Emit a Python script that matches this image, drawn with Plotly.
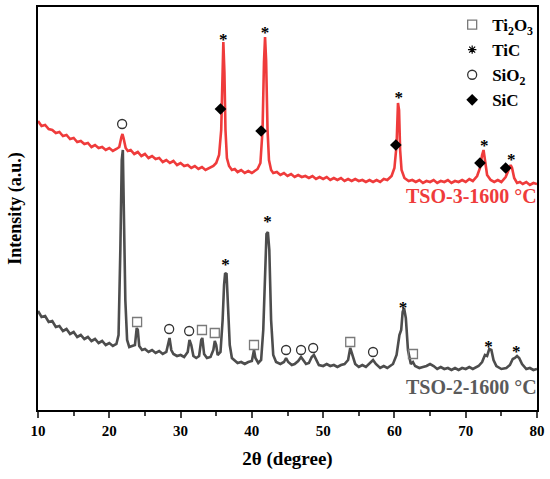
import plotly.graph_objects as go

# ---- red pattern: TSO-3-1600 °C (values read as pixel rows, converted below)
red_x = [10.0, 10.5, 11.0, 11.5, 12.0, 12.5, 13.0, 13.5, 14.0, 14.5, 15.0, 15.5, 16.0, 16.5,
         17.0, 17.5, 18.0, 18.5, 19.0, 19.5, 20.0, 20.5, 21.0, 21.4, 21.7, 21.85, 22.0, 22.3,
         22.6, 23.0, 23.5, 24.0, 24.5, 25.0, 25.5, 26.0, 26.5, 27.0, 27.5, 28.0, 28.5, 29.0,
         29.5, 30.0, 30.5, 31.0, 31.5, 32.0, 32.5, 33.0, 33.5, 34.0, 34.6, 35.0, 35.4, 35.7,
         35.85, 36.0, 36.15, 36.3, 36.5, 36.8, 37.2, 37.6, 38.0, 38.5, 39.0, 39.5, 40.0, 40.4,
         40.8, 41.2, 41.5, 41.7, 41.85, 42.0, 42.2, 42.4, 42.7, 43.0, 43.5, 44.0, 44.5, 45.0,
         45.5, 46.0, 46.5, 47.0, 47.5, 48.0, 48.5, 49.0, 49.5, 50.0, 50.5, 51.0, 51.5, 52.0,
         52.5, 53.0, 53.5, 54.0, 54.5, 55.0, 55.5, 56.0, 56.5, 57.0, 57.5, 58.0, 58.5, 59.0,
         59.6, 60.0, 60.3, 60.5, 60.65, 60.8, 61.0, 61.4, 62.0, 62.5, 63.0, 63.5, 64.0, 64.5,
         65.0, 65.5, 66.0, 66.5, 67.0, 67.5, 68.0, 68.5, 69.0, 69.5, 70.0, 70.5, 71.0, 71.6,
         72.0, 72.3, 72.5, 72.7, 73.0, 73.5, 74.0, 74.5, 75.0, 75.6, 76.0, 76.3, 76.5, 76.8,
         77.2, 77.6, 78.0, 78.5, 79.0, 79.5, 80.0]
red_row = [121, 126, 125, 129, 130, 133, 132, 136, 135, 139, 138, 142, 141, 144,
           143, 147, 145, 148, 147, 150, 148, 151, 149, 147, 137, 134, 138, 148,
           151, 150, 154, 152, 156, 154, 158, 156, 159, 158, 162, 160, 163, 161,
           165, 163, 166, 165, 168, 166, 169, 167, 170, 168, 166, 163, 155, 130,
           80, 42, 72, 130, 158, 166, 170, 169, 172, 170, 173, 171, 173, 171,
           169, 163, 130, 62, 37, 60, 130, 160, 170, 173, 172, 175, 173, 176,
           174, 177, 175, 177, 176, 178, 176, 179, 177, 179, 177, 180, 178, 180,
           178, 181, 179, 181, 179, 181, 180, 182, 180, 182, 180, 182, 179, 180,
           176, 168, 145, 103, 110, 150, 170, 178, 181, 180, 182, 180, 183, 181,
           182, 180, 183, 181, 182, 180, 183, 181, 182, 180, 182, 179, 181, 176,
           168, 155, 150, 160, 175, 180, 182, 180, 182, 177, 171, 165, 168, 178,
           183, 182, 184, 182, 185, 183, 184]

# ---- grey pattern: TSO-2-1600 °C
grey_x = [10.0, 10.5, 11.0, 11.5, 12.0, 12.5, 13.0, 13.5, 14.0, 14.5, 15.0, 15.5, 16.0, 16.5,
          17.0, 17.5, 18.0, 18.5, 19.0, 19.5, 20.0, 20.5, 21.0, 21.3, 21.55, 21.75, 21.9, 22.05,
          22.25, 22.5, 22.8, 23.2, 23.6, 23.85, 24.0, 24.2, 24.6, 25.0, 25.5, 26.0, 26.5, 27.0,
          27.5, 28.0, 28.3, 28.45, 28.7, 29.0, 29.5, 30.0, 30.5, 31.0, 31.25, 31.5, 31.8, 32.2,
          32.6, 32.9, 33.05, 33.3, 33.7, 34.2, 34.6, 34.8, 35.0, 35.2, 35.6, 35.9, 36.1, 36.25,
          36.45, 36.65, 36.9, 37.2, 37.6, 38.0, 38.5, 39.0, 39.5, 40.0, 40.3, 40.5, 40.9, 41.3,
          41.6, 41.85, 42.05, 42.25, 42.45, 42.7, 43.0, 43.4, 44.0, 44.5, 44.8, 45.1, 45.6, 46.0,
          46.5, 46.9, 47.2, 47.6, 48.0, 48.4, 48.7, 49.0, 49.4, 50.0, 50.5, 51.0, 51.5, 52.0,
          52.5, 53.0, 53.5, 53.8, 54.1, 54.5, 55.0, 55.5, 56.0, 56.6, 57.0, 57.4, 58.0, 58.5,
          59.0, 59.8, 60.3, 60.7, 60.95, 61.15, 61.35, 61.6, 61.9, 62.3, 62.6, 62.9, 63.5, 64.0,
          64.5, 65.0, 65.5, 66.0, 66.5, 67.0, 67.5, 68.0, 68.5, 69.0, 69.5, 70.0, 70.5, 71.0,
          71.8, 72.3, 72.7, 73.0, 73.3, 73.6, 73.9, 74.3, 75.0, 75.7, 76.2, 76.6, 76.9, 77.2,
          77.5, 77.9, 78.5, 79.0, 79.5, 80.0]
grey_row = [311, 317, 316, 322, 321, 327, 326, 331, 329, 334, 332, 337, 335, 339,
            337, 341, 339, 343, 341, 345, 343, 346, 344, 335, 250, 160, 150, 200,
            300, 340, 347, 346, 345, 328, 330, 346, 350, 349, 352, 350, 353, 351,
            354, 352, 340, 338, 350, 354, 356, 355, 357, 352, 340, 345, 356, 358,
            356, 340, 338, 354, 358, 357, 350, 341, 345, 355, 352, 320, 285, 273,
            274, 300, 345, 358, 361, 363, 362, 364, 362, 361, 350, 358, 363, 360,
            330, 270, 234, 232, 250, 320, 355, 362, 364, 362, 358, 362, 365, 364,
            361, 357, 360, 364, 363, 357, 355, 360, 365, 366, 364, 366, 365, 367,
            365, 364, 360, 348, 355, 364, 367, 365, 367, 363, 360, 364, 368, 366,
            368, 364, 355, 335, 330, 312, 308, 318, 350, 364, 362, 366, 368, 367,
            366, 364, 366, 369, 367, 369, 368, 370, 368, 370, 368, 369, 367, 369,
            366, 362, 355, 356, 349, 350, 360, 366, 369, 368, 365, 359, 358, 356,
            358, 364, 369, 368, 370, 369]

# ---- phase markers (x position, pixel row of the symbol)
ti2o3_x = [23.9, 33.0, 34.8, 40.3, 53.8, 62.6]
ti2o3_row = [322, 330, 333, 345, 342, 354]
sio2_x = [21.8, 28.4, 31.2, 44.8, 46.9, 48.6, 57.0]
sio2_row = [124, 329, 331, 350, 350, 348, 352]
sic_x = [35.6, 41.3, 60.2, 72.0, 75.6]
sic_row = [109, 131, 145, 163, 168]
tic_x = [36.0, 41.85, 60.6, 72.6, 76.4, 36.3, 42.2, 61.2, 73.2, 77.1]
tic_row = [41, 34, 99, 147, 161, 266, 223, 309, 348, 353]

BOTTOM = 410  # pixel row of the x axis
def to_int(rows):
    return [BOTTOM - r for r in rows]

FONT = "Liberation Serif"
RED = "#ef3b3b"
GREY = "#4d4d4d"

fig = go.Figure()
fig.add_trace(go.Scatter(x=grey_x, y=to_int(grey_row), mode="lines",
                         line=dict(color=GREY, width=2.6), showlegend=False))
fig.add_trace(go.Scatter(x=red_x, y=to_int(red_row), mode="lines",
                         line=dict(color=RED, width=2.6), showlegend=False))

fig.add_trace(go.Scatter(x=ti2o3_x, y=to_int(ti2o3_row), mode="markers", name="Ti<sub>2</sub>O<sub>3</sub>",
                         marker=dict(symbol="square-open", size=9, color="#7a7a7a", line=dict(width=1.3))))
fig.add_trace(go.Scatter(x=tic_x, y=to_int(tic_row), mode="text", text=["*"] * len(tic_x),
                         textfont=dict(family=FONT, size=17, color="black", weight="bold"),
                         showlegend=False))
fig.add_trace(go.Scatter(x=[None], y=[None], mode="markers", name="TiC",
                         marker=dict(symbol="asterisk-open", size=7, color="black", line=dict(width=1.2))))
fig.add_trace(go.Scatter(x=sio2_x, y=to_int(sio2_row), mode="markers", name="SiO<sub>2</sub>",
                         marker=dict(symbol="circle-open", size=9, color="#333333", line=dict(width=1.3))))
fig.add_trace(go.Scatter(x=sic_x, y=to_int(sic_row), mode="markers", name="SiC",
                         marker=dict(symbol="diamond", size=9, color="black")))

fig.add_annotation(text="TSO-3-1600 °C", x=1.005, y=214, xref="paper", yref="y",
                   xanchor="right", yanchor="middle", showarrow=False,
                   font=dict(family=FONT, size=20, color=RED, weight="bold"))
fig.add_annotation(text="TSO-2-1600 °C", x=1.005, y=23, xref="paper", yref="y",
                   xanchor="right", yanchor="middle", showarrow=False,
                   font=dict(family=FONT, size=20, color="#5a5a5a", weight="bold"))

fig.update_xaxes(range=[10, 80], dtick=10, ticks="outside", ticklen=6, tickwidth=2,
                 minor=dict(dtick=5, ticks="outside", ticklen=4, tickwidth=2),
                 showline=True, linewidth=2, linecolor="black", mirror=True,
                 showgrid=False, zeroline=False, automargin=False,
                 tickfont=dict(family=FONT, size=15, color="black", weight="bold"),
                 title=dict(text="2θ (degree)", standoff=14,
                            font=dict(family=FONT, size=19, color="black", weight="bold")))
fig.update_yaxes(range=[0, 403], showticklabels=False, ticks="",
                 showline=True, linewidth=2, linecolor="black", mirror=True,
                 showgrid=False, zeroline=False, automargin=False,
                 title=dict(text="Intensity (a.u.)", standoff=10,
                            font=dict(family=FONT, size=18, color="black", weight="bold")))

fig.update_layout(
    width=550, height=479,
    margin=dict(l=38, r=13, t=7, b=69, autoexpand=False),
    plot_bgcolor="white", paper_bgcolor="white",
    legend=dict(x=0.83, y=1.0, xanchor="left", yanchor="top", bgcolor="rgba(0,0,0,0)",
                font=dict(family=FONT, size=17, color="black", weight="bold"),
                itemwidth=30, tracegroupgap=0),
)

# the page body has a default 8px margin; drop it so the figure sits at the corner
fig.write_html("out.html", config={"displayModeBar": False},
               post_script="document.body.style.margin = '0';")
